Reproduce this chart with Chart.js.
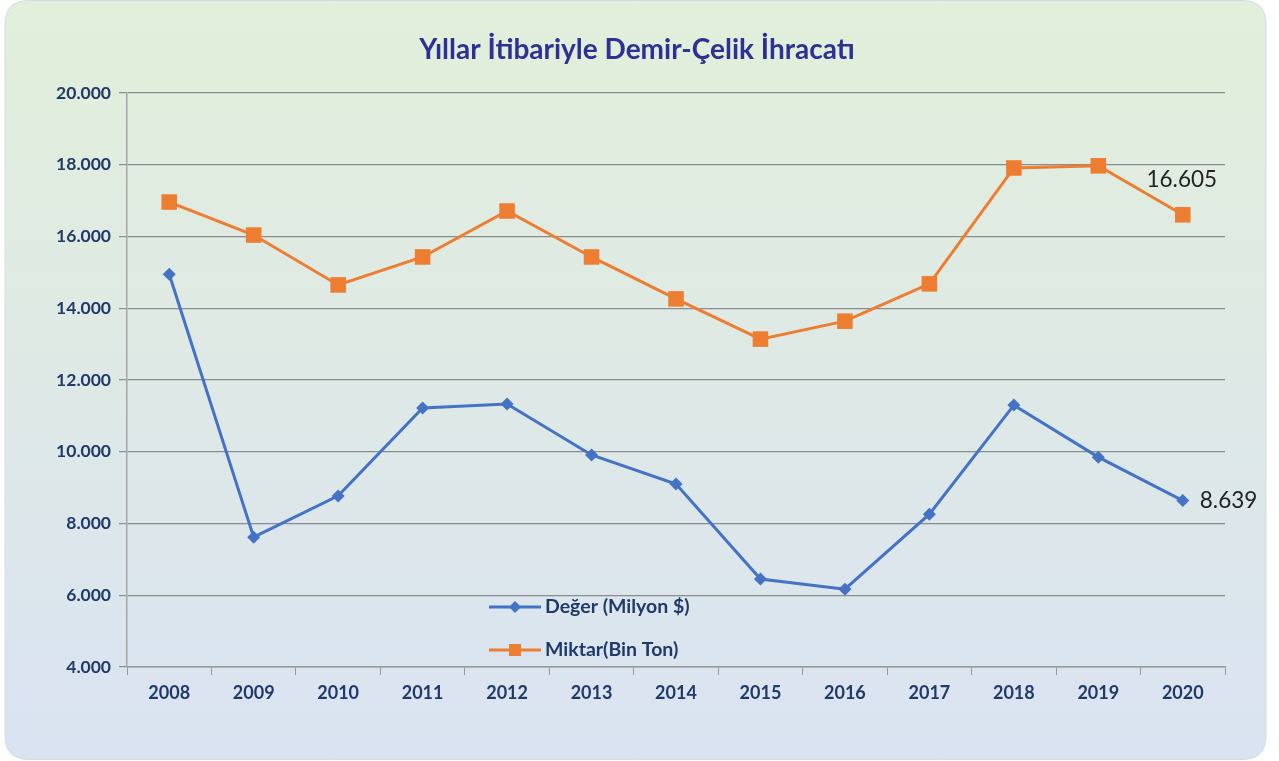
<!DOCTYPE html>
<html>
<head>
<meta charset="utf-8">
<script src="https://cdn.jsdelivr.net/npm/chart.js@4.4.0/dist/chart.umd.min.js"></script>
<style>
html,body{margin:0;padding:0;background:#ffffff;}
#wrap{position:relative;width:1279px;height:761px;}
canvas{display:block;}
</style>
</head>
<body>
<div id="wrap"><canvas id="c" width="1279" height="761"></canvas></div>
<script>
const title = "Yıllar İtibariyle Demir-Çelik İhracatı";
const years = ["2008","2009","2010","2011","2012","2013","2014","2015","2016","2017","2018","2019","2020"];
const degerLabel = "Değer (Milyon $)";
const miktarLabel = "Miktar(Bin Ton)";
const degerValues = [14950, 7620, 8770, 11220, 11330, 9910, 9100, 6450, 6170, 8260, 11300, 9850, 8639];
const miktarValues = [16960, 16040, 14650, 15430, 16710, 15430, 14260, 13140, 13640, 14680, 17910, 17970, 16605];
const yTicks = [4000, 6000, 8000, 10000, 12000, 14000, 16000, 18000, 20000];

const FONT = "Lato, 'Open Sans', sans-serif";
const NAVY = "#1f3a68";
const fmt = v => Math.round(v).toString().replace(/\B(?=(\d{3})+(?!\d))/g, ".");
const fmtLabel = v => (v/1000).toFixed(3);

const bgPlugin = {
  id: 'bg',
  beforeDraw(chart) {
    const ctx = chart.ctx;
    const x = 5, y = 0.5, w = 1261, h = 759, r = 24;
    ctx.save();
    const g = ctx.createLinearGradient(0, 0, 0, 761);
    g.addColorStop(0, '#e2efda');
    g.addColorStop(1, '#dae3f2');
    ctx.beginPath();
    ctx.moveTo(x + r, y);
    ctx.lineTo(x + w - r, y);
    ctx.quadraticCurveTo(x + w, y, x + w, y + r);
    ctx.lineTo(x + w, y + h - r);
    ctx.quadraticCurveTo(x + w, y + h, x + w - r, y + h);
    ctx.lineTo(x + r, y + h);
    ctx.quadraticCurveTo(x, y + h, x, y + h - r);
    ctx.lineTo(x, y + r);
    ctx.quadraticCurveTo(x, y, x + r, y);
    ctx.closePath();
    ctx.fillStyle = g;
    ctx.fill();
    ctx.strokeStyle = '#d3dbe3';
    ctx.lineWidth = 1;
    ctx.stroke();
    ctx.restore();
  },
  afterDraw(chart) {
    const ctx = chart.ctx;
    ctx.save();
    // title
    ctx.font = "bold 28px " + FONT;
    ctx.fillStyle = "#2e3192";
    ctx.textAlign = "center";
    ctx.textBaseline = "middle";
    ctx.fillText(title, 637, 50);
    // legend
    const ds = chart.data.datasets;
    const rows = [607, 650];
    ds.forEach((d, i) => {
      const yy = rows[i];
      ctx.strokeStyle = d.borderColor;
      ctx.lineWidth = 3;
      ctx.beginPath();
      ctx.moveTo(489, yy); ctx.lineTo(541, yy); ctx.stroke();
      ctx.fillStyle = d.backgroundColor;
      if (d.pointStyle === 'rectRot') {
        ctx.beginPath();
        ctx.moveTo(515, yy - 6); ctx.lineTo(521, yy); ctx.lineTo(515, yy + 6); ctx.lineTo(509, yy);
        ctx.closePath(); ctx.fill();
      } else {
        ctx.fillRect(509, yy - 6, 12, 12);
      }
      ctx.font = "bold 19.5px " + FONT;
      ctx.fillStyle = NAVY;
      ctx.textAlign = "left";
      ctx.textBaseline = "middle";
      ctx.fillText(d.label, 545, yy);
    });
    // data labels on last points
    const xs = chart.scales.x, ys = chart.scales.y;
    const last = years.length - 1;
    ctx.font = "22.5px " + FONT;
    ctx.fillStyle = "#222222";
    ctx.textBaseline = "middle";
    ctx.textAlign = "center";
    ctx.fillText(fmtLabel(miktarValues[last]), xs.getPixelForValue(last) - 1, ys.getPixelForValue(miktarValues[last]) - 35);
    ctx.textAlign = "left";
    ctx.fillText(fmtLabel(degerValues[last]), xs.getPixelForValue(last) + 17, ys.getPixelForValue(degerValues[last]));
    ctx.restore();
  }
};

new Chart(document.getElementById('c'), {
  type: 'line',
  data: {
    labels: years,
    datasets: [
      {
        label: degerLabel,
        data: degerValues,
        borderColor: '#4472c4',
        backgroundColor: '#4472c4',
        borderWidth: 3,
        pointStyle: 'rectRot',
        pointRadius: 6.5,
        pointBorderWidth: 0,
        tension: 0
      },
      {
        label: miktarLabel,
        data: miktarValues,
        borderColor: '#ed7d31',
        backgroundColor: '#ed7d31',
        borderWidth: 3,
        pointStyle: 'rect',
        pointRadius: 11,
        pointBorderWidth: 0,
        tension: 0
      }
    ]
  },
  options: {
    responsive: false,
    animation: false,
    layout: { padding: { left: 0, right: 54, top: 93, bottom: 0 } },
    plugins: {
      legend: { display: false },
      title: { display: false },
      tooltip: { enabled: false }
    },
    scales: {
      x: {
        type: 'category',
        offset: true,
        grid: { offset: true, drawOnChartArea: false, drawTicks: true, tickLength: 8, color: '#9a9a9a', lineWidth: 1 },
        border: { display: true, color: '#9a9a9a', width: 1.5 },
        ticks: { color: NAVY, font: { family: FONT, size: 18, weight: 'bold' }, padding: 7, maxRotation: 0 },
        afterFit(s) { s.height = 94; }
      },
      y: {
        min: 4000,
        max: 20000,
        afterBuildTicks(s) { s.ticks = yTicks.map(v => ({ value: v })); },
        grid: { drawOnChartArea: true, drawTicks: true, tickLength: 8, color: '#8c8c8c', lineWidth: 1.2 },
        border: { display: true, color: '#a6a6a6', width: 1.5 },
        ticks: { color: NAVY, font: { family: FONT, size: 17.5, weight: 'bold' }, padding: 8, callback: v => fmt(v) },
        afterFit(s) { s.width = 127; }
      }
    }
  },
  plugins: [bgPlugin]
});
</script>
</body>
</html>
